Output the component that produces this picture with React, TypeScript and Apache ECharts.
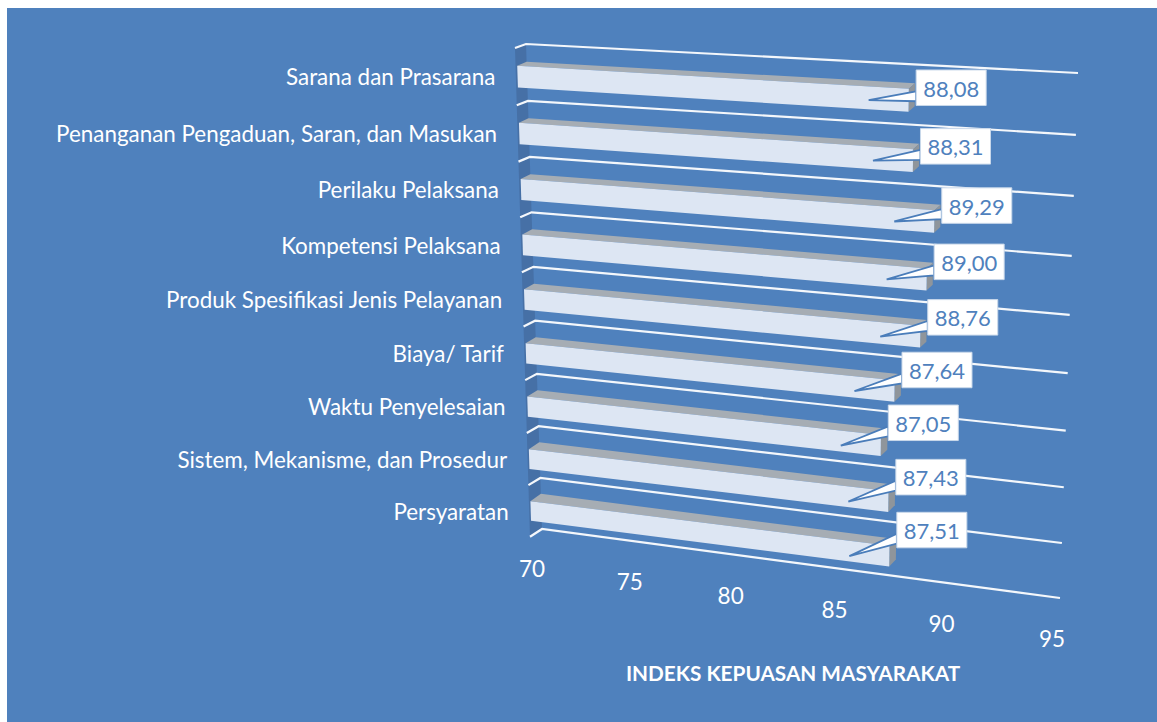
import React, { useEffect, useRef } from "react";
import * as echarts from "echarts";

const categories = [
  "Sarana dan Prasarana",
  "Penanganan Pengaduan, Saran, dan Masukan",
  "Perilaku Pelaksana",
  "Kompetensi Pelaksana",
  "Produk Spesifikasi Jenis Pelayanan",
  "Biaya/ Tarif",
  "Waktu Penyelesaian",
  "Sistem, Mekanisme, dan Prosedur",
  "Persyaratan",
];
const values = [88.08, 88.31, 89.29, 89.0, 88.76, 87.64, 87.05, 87.43, 87.51];
const valueLabels = ["88,08", "88,31", "89,29", "89,00", "88,76", "87,64", "87,05", "87,43", "87,51"];
const ticks = [70, 75, 80, 85, 90, 95];
const axisTitle = "INDEKS KEPUASAN MASYARAKAT";

const BLUE = "#4f81bd";
const FONT = "Lato";

type P = [number, number];
function homography(p0: P, p1: P, p2: P, p3: P) {
  const dx1 = p1[0] - p2[0], dx2 = p3[0] - p2[0], sx = p0[0] - p1[0] + p2[0] - p3[0];
  const dy1 = p1[1] - p2[1], dy2 = p3[1] - p2[1], sy = p0[1] - p1[1] + p2[1] - p3[1];
  const den = dx1 * dy2 - dx2 * dy1;
  const g = (sx * dy2 - dx2 * sy) / den;
  const h = (dx1 * sy - sx * dy1) / den;
  const a = p1[0] - p0[0] + g * p1[0], b = p3[0] - p0[0] + h * p3[0], c = p0[0];
  const d = p1[1] - p0[1] + g * p1[1], e = p3[1] - p0[1] + h * p3[1], f = p0[1];
  return (u: number, v: number): P => {
    const w = g * u + h * v + 1;
    return [(a * u + b * v + c) / w, (d * u + e * v + f) / w];
  };
}
// Planes of the 3D box: u = share of value axis, v = rows from top (0..9)
const backPlane = homography([526, 44], [1078, 73], [1060, 598], [542, 529]);
const frontPlane = homography([515, 48], [1071, 76], [1053, 601], [530, 536.7]);
const barPlane = homography([516.7, 48], [1072, 79], [1054, 604.5], [531.5, 536.7]);
const back = (u: number, v: number) => backPlane(u, v / categories.length);
const front = (u: number, v: number) => frontPlane(u, v / categories.length);
const barFront = (u: number, v: number) => barPlane(u, v / categories.length);

function uv(params: any, api: any, value: number, cat: number) {
  const pt = api.coord([value, cat]);
  const cs = params.coordSys;
  return {
    u: (pt[0] - cs.x) / cs.width,
    v: (pt[1] - cs.y) / (cs.height / categories.length),
  };
}

const wallItem = (params: any, api: any) => {
  const { v } = uv(params, api, 70, api.value(0));
  const top = v - 0.5;
  const children: any[] = [];
  const line = (row: number) => ({
    type: "polyline",
    shape: { points: [front(0, row), back(0, row), back(1, row)] },
    style: { stroke: "#f4f7fb", lineWidth: 2.2, fill: "none" },
  });
  if (params.dataIndex === 0) {
    children.push({
      type: "polygon",
      shape: { points: [front(0, 0), back(0, 0), back(0, categories.length), front(0, categories.length)] },
      style: { fill: "#4670a6" },
    });
  }
  children.push(line(top));
  if (params.dataIndex === categories.length - 1) children.push(line(top + 1));
  return { type: "group", children };
};

const barItem = (params: any, api: any) => {
  const cat = api.value(1);
  const { u, v } = uv(params, api, api.value(0), cat);
  const v0 = v - 0.19, v1 = v + 0.19;
  const { u: u0 } = uv(params, api, 70, cat);
  return {
    type: "group",
    children: [
      { type: "polygon", shape: { points: [barFront(u0, v0), back(u0, v0), back(u, v0), barFront(u, v0)] }, style: { fill: "#a6adb4" } },
      { type: "polygon", shape: { points: [barFront(u, v0), back(u, v0), back(u, v1), barFront(u, v1)] }, style: { fill: "#8f959b" } },
      { type: "polygon", shape: { points: [barFront(u0, v0), barFront(u, v0), barFront(u, v1), barFront(u0, v1)] }, style: { fill: "#dde6f3" } },
    ],
  };
};

const calloutItem = (params: any, api: any) => {
  const i = params.dataIndex;
  const { u, v } = uv(params, api, api.value(0), api.value(1));
  const a = barFront(u, v);
  const w = 70, h = 35.5;
  const bx = a[0] + 7.5;
  const by = a[1] - (12.5 + 1.7 * i) - h / 2;
  const tip: P = [a[0] - 40, a[1]];
  return {
    type: "group",
    children: [
      {
        type: "polygon",
        shape: { points: [tip, [bx, by + h * 0.6], [bx, by + h * 0.88]] },
        style: { fill: "#ffffff", stroke: "#4a7dba", lineWidth: 1.8 },
      },
      { type: "rect", shape: { x: bx, y: by, width: w, height: h }, style: { fill: "#ffffff", stroke: "#c9d8ea", lineWidth: 1 } },
      {
        type: "text",
        style: { text: valueLabels[i], x: bx + w / 2, y: by + h / 2 + 0.5, fill: BLUE, font: `22px ${FONT}`, align: "center", verticalAlign: "middle" },
      },
    ],
  };
};

const categoryItem = (params: any, api: any) => {
  const { v } = uv(params, api, 70, api.value(0));
  const p = front(0, v);
  return {
    type: "text",
    style: { text: categories[params.dataIndex], x: p[0] - 20.5, y: p[1] + 0.3, fill: "#ffffff", font: `22.4px ${FONT}`, align: "right", verticalAlign: "middle" },
  };
};

const tickItem = (params: any, api: any) => {
  const value = api.value(0);
  const { u } = uv(params, api, value, 0);
  const p = front(u, categories.length);
  return {
    type: "text",
    style: { text: String(value), x: p[0] + 2 - 3 * u, y: p[1] + 31.5 + 6 * u, fill: "#ffffff", font: `22.5px ${FONT}`, align: "center", verticalAlign: "middle" },
  };
};

export default function App() {
  const ref = useRef<HTMLDivElement>(null);
  useEffect(() => {
    document.body.style.margin = "0";
    const chart = echarts.init(ref.current!, undefined, { renderer: "svg" });
    const catData = categories.map((c) => [c]);
    chart.setOption({
      animation: false,
      backgroundColor: "#ffffff",
      graphic: [
        { type: "rect", z: -10, shape: { x: 7, y: 8, width: 1150, height: 714 }, style: { fill: BLUE } },
        {
          type: "text",
          z: 10,
          style: { text: axisTitle, x: 793, y: 673, fill: "#ffffff", font: `bold 20.75px ${FONT}`, align: "center", verticalAlign: "middle" },
        },
      ],
      grid: { left: 526, top: 44, width: 552, height: 554 },
      xAxis: { type: "value", min: 70, max: 95, interval: 5, show: false },
      yAxis: { type: "category", data: categories, inverse: true, show: false },
      series: [
        { type: "custom", renderItem: wallItem, data: catData, encode: { y: 0 }, z: 2 },
        { type: "custom", renderItem: barItem, data: values.map((v, i) => [v, categories[i]]), encode: { x: 0, y: 1 }, z: 3 },
        { type: "custom", renderItem: calloutItem, data: values.map((v, i) => [v, categories[i]]), encode: { x: 0, y: 1 }, z: 4 },
        { type: "custom", renderItem: categoryItem, data: catData, encode: { y: 0 }, z: 5 },
        { type: "custom", renderItem: tickItem, data: ticks.map((t) => [t]), encode: { x: 0 }, z: 5 },
      ],
    });
    return () => chart.dispose();
  }, []);
  return <div ref={ref} style={{ width: 1157, height: 722 }} />;
}
